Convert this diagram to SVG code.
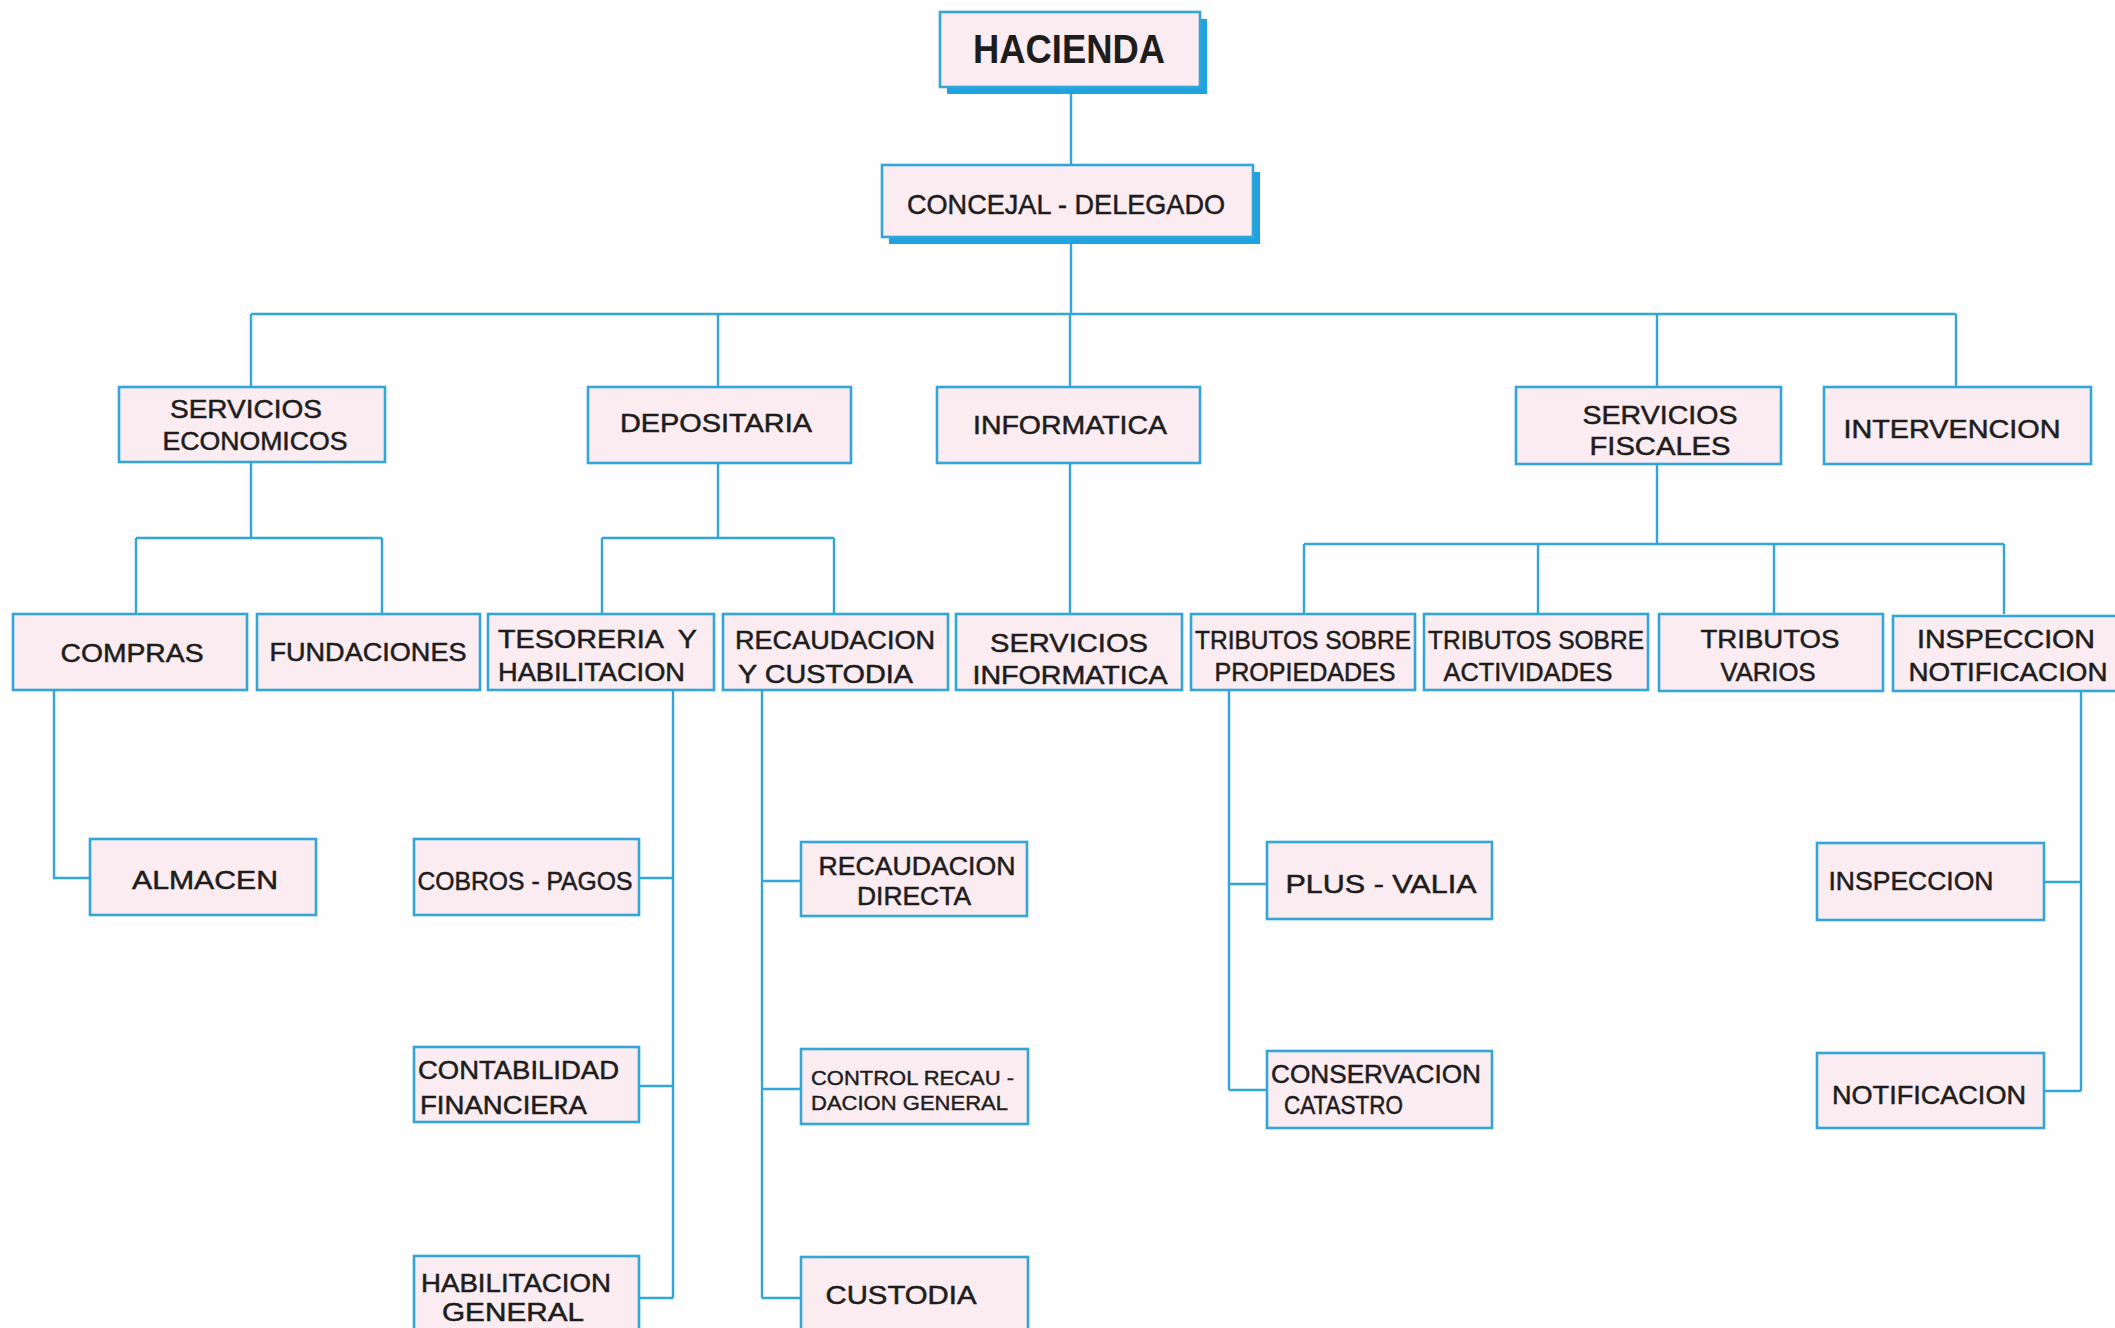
<svg xmlns="http://www.w3.org/2000/svg" width="2115" height="1328" viewBox="0 0 2115 1328">
<style>
.box{fill:#fbecf1;stroke:#33a6d8;stroke-width:2.6}
.sh{fill:#1fa3e0}
.ln{fill:none;stroke:#33a6d8;stroke-width:2.4}
text{font-family:"Liberation Sans",Arial,sans-serif;fill:#1d1d1d;stroke:#1d1d1d;stroke-width:0.5;font-size:25px}
.t{text-anchor:start}
.sm{font-size:20px;stroke-width:0.4}
.big{font-size:40px;font-weight:bold;stroke-width:0}
.mid{font-size:28px}
</style>
<rect width="2115" height="1328" fill="#fefefe"/>
<g id="connectors">
<path class="ln" d="M1071 87V165M1071 237V314M251 314H1956M251 314V387M718 314V387M1070 314V387M1657 314V387M1956 314V387"/>
<path class="ln" d="M251 462V538M136 538H382M136 538V614M382 538V614"/>
<path class="ln" d="M718 462V538M602 538H834M602 538V614M834 538V614"/>
<path class="ln" d="M1070 462V614"/>
<path class="ln" d="M1657 464V544M1304 544H2004M1304 544V614M1538 544V614M1774 544V614M2004 544V614"/>
<path class="ln" d="M54 690V878H90"/>
<path class="ln" d="M673 690V1298M639 878H673M639 1086H673M639 1298H673"/>
<path class="ln" d="M762 690V1298M762 881H801M762 1089H801M762 1298H801"/>
<path class="ln" d="M1229 690V1090M1229 884H1267M1229 1090H1267"/>
<path class="ln" d="M2081 690V1091M2044 882H2081M2044 1091H2081"/>
</g>
<g id="hacienda"><rect class="sh" x="947" y="19" width="260" height="75"/><rect class="box" x="940" y="12" width="260" height="75"/><text class="big" x="1069" y="63" text-anchor="middle" textLength="192" lengthAdjust="spacingAndGlyphs">HACIENDA</text></g>
<g id="concejal"><rect class="sh" x="889" y="172" width="371" height="72"/><rect class="box" x="882" y="165" width="371" height="72"/><text class="mid" x="1066" y="214" text-anchor="middle" textLength="318" lengthAdjust="spacingAndGlyphs">CONCEJAL - DELEGADO</text></g>

<g id="servicios-economicos"><rect class="box" x="119" y="387" width="266" height="75"/><text x="246" y="418" text-anchor="middle" textLength="152" lengthAdjust="spacingAndGlyphs">SERVICIOS</text><text x="255" y="450" text-anchor="middle" textLength="185" lengthAdjust="spacingAndGlyphs">ECONOMICOS</text></g>
<g id="depositaria"><rect class="box" x="588" y="387" width="263" height="76"/><text x="716" y="432" text-anchor="middle" textLength="192" lengthAdjust="spacingAndGlyphs">DEPOSITARIA</text></g>
<g id="informatica"><rect class="box" x="937" y="387" width="263" height="76"/><text x="1070" y="434" text-anchor="middle" textLength="194" lengthAdjust="spacingAndGlyphs">INFORMATICA</text></g>
<g id="servicios-fiscales"><rect class="box" x="1516" y="387" width="265" height="77"/><text x="1660" y="424" text-anchor="middle" textLength="155" lengthAdjust="spacingAndGlyphs">SERVICIOS</text><text x="1660" y="455" text-anchor="middle" textLength="141" lengthAdjust="spacingAndGlyphs">FISCALES</text></g>
<g id="intervencion"><rect class="box" x="1824" y="387" width="267" height="77"/><text x="1952" y="438" text-anchor="middle" textLength="217" lengthAdjust="spacingAndGlyphs">INTERVENCION</text></g>

<g id="compras"><rect class="box" x="13" y="614" width="234" height="76"/><text x="132" y="662" text-anchor="middle" textLength="143" lengthAdjust="spacingAndGlyphs">COMPRAS</text></g>
<g id="fundaciones"><rect class="box" x="257" y="614" width="223" height="76"/><text x="368" y="661" text-anchor="middle" textLength="197" lengthAdjust="spacingAndGlyphs">FUNDACIONES</text></g>
<g id="tesoreria"><rect class="box" x="488" y="614" width="226" height="76"/><text class="t" x="498" y="648" textLength="199" lengthAdjust="spacingAndGlyphs" xml:space="preserve">TESORERIA  Y</text><text class="t" x="498" y="681" textLength="187" lengthAdjust="spacingAndGlyphs">HABILITACION</text></g>
<g id="recaudacion-custodia"><rect class="box" x="723" y="614" width="225" height="76"/><text class="t" x="735" y="649" textLength="200" lengthAdjust="spacingAndGlyphs">RECAUDACION</text><text class="t" x="738" y="683" textLength="175" lengthAdjust="spacingAndGlyphs">Y CUSTODIA</text></g>
<g id="servicios-informatica"><rect class="box" x="956" y="614" width="226" height="76"/><text x="1069" y="652" text-anchor="middle" textLength="158" lengthAdjust="spacingAndGlyphs">SERVICIOS</text><text x="1070" y="684" text-anchor="middle" textLength="195" lengthAdjust="spacingAndGlyphs">INFORMATICA</text></g>
<g id="tributos-propiedades"><rect class="box" x="1191" y="614" width="224" height="76"/><text x="1303" y="649" text-anchor="middle" textLength="216" lengthAdjust="spacingAndGlyphs">TRIBUTOS SOBRE</text><text x="1305" y="681" text-anchor="middle" textLength="181" lengthAdjust="spacingAndGlyphs">PROPIEDADES</text></g>
<g id="tributos-actividades"><rect class="box" x="1424" y="614" width="224" height="76"/><text x="1536" y="649" text-anchor="middle" textLength="216" lengthAdjust="spacingAndGlyphs">TRIBUTOS SOBRE</text><text x="1528" y="681" text-anchor="middle" textLength="169" lengthAdjust="spacingAndGlyphs">ACTIVIDADES</text></g>
<g id="tributos-varios"><rect class="box" x="1659" y="614" width="224" height="77"/><text x="1770" y="648" text-anchor="middle" textLength="139" lengthAdjust="spacingAndGlyphs">TRIBUTOS</text><text x="1768" y="681" text-anchor="middle" textLength="95" lengthAdjust="spacingAndGlyphs">VARIOS</text></g>
<g id="inspeccion-notificacion"><rect class="box" x="1893" y="616" width="240" height="75"/><text x="2006" y="648" text-anchor="middle" textLength="178" lengthAdjust="spacingAndGlyphs">INSPECCION</text><text x="2008" y="681" text-anchor="middle" textLength="199" lengthAdjust="spacingAndGlyphs">NOTIFICACION</text></g>

<g id="almacen"><rect class="box" x="90" y="839" width="226" height="76"/><text x="205" y="889" text-anchor="middle" textLength="146" lengthAdjust="spacingAndGlyphs">ALMACEN</text></g>
<g id="cobros-pagos"><rect class="box" x="414" y="839" width="225" height="76"/><text x="525" y="890" text-anchor="middle" textLength="215" lengthAdjust="spacingAndGlyphs">COBROS - PAGOS</text></g>
<g id="contabilidad"><rect class="box" x="414" y="1047" width="225" height="75"/><text class="t" x="418" y="1079" textLength="201" lengthAdjust="spacingAndGlyphs">CONTABILIDAD</text><text class="t" x="420" y="1114" textLength="167" lengthAdjust="spacingAndGlyphs">FINANCIERA</text></g>
<g id="habilitacion-general"><rect class="box" x="414" y="1256" width="225" height="80"/><text class="t" x="421" y="1292" textLength="190" lengthAdjust="spacingAndGlyphs">HABILITACION</text><text class="t" x="442" y="1321" textLength="142" lengthAdjust="spacingAndGlyphs">GENERAL</text></g>
<g id="recaudacion-directa"><rect class="box" x="801" y="842" width="226" height="74"/><text x="917" y="875" text-anchor="middle" textLength="197" lengthAdjust="spacingAndGlyphs">RECAUDACION</text><text x="914" y="905" text-anchor="middle" textLength="114" lengthAdjust="spacingAndGlyphs">DIRECTA</text></g>
<g id="control-recaudacion"><rect class="box" x="801" y="1049" width="227" height="75"/><text class="t sm" x="811" y="1085" textLength="203" lengthAdjust="spacingAndGlyphs">CONTROL RECAU -</text><text class="t sm" x="811" y="1110" textLength="197" lengthAdjust="spacingAndGlyphs">DACION GENERAL</text></g>
<g id="custodia"><rect class="box" x="801" y="1257" width="227" height="80"/><text x="901" y="1304" text-anchor="middle" textLength="151" lengthAdjust="spacingAndGlyphs">CUSTODIA</text></g>
<g id="plus-valia"><rect class="box" x="1267" y="842" width="225" height="77"/><text x="1381" y="893" text-anchor="middle" textLength="191" lengthAdjust="spacingAndGlyphs">PLUS - VALIA</text></g>
<g id="conservacion-catastro"><rect class="box" x="1267" y="1051" width="225" height="77"/><text class="t" x="1271" y="1083" textLength="210" lengthAdjust="spacingAndGlyphs">CONSERVACION</text><text class="t" x="1284" y="1114" textLength="119" lengthAdjust="spacingAndGlyphs">CATASTRO</text></g>
<g id="inspeccion"><rect class="box" x="1817" y="843" width="227" height="77"/><text x="1911" y="890" text-anchor="middle" textLength="165" lengthAdjust="spacingAndGlyphs">INSPECCION</text></g>
<g id="notificacion"><rect class="box" x="1817" y="1053" width="227" height="75"/><text x="1929" y="1104" text-anchor="middle" textLength="194" lengthAdjust="spacingAndGlyphs">NOTIFICACION</text></g>
</svg>
